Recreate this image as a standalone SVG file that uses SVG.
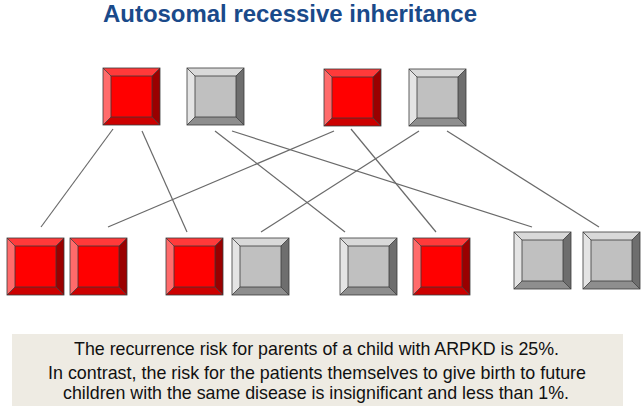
<svg xmlns="http://www.w3.org/2000/svg" xmlns:xlink="http://www.w3.org/1999/xlink" width="641" height="408" viewBox="0 0 641 408">
<style>
.title{font-family:"Liberation Sans",Arial,sans-serif;font-weight:bold;font-size:24px;fill:#1a4a8a}
.note{font-family:"Liberation Sans",Arial,sans-serif;font-size:17.8px;fill:#111}
.conn line{stroke:#6a6a6a;stroke-width:1.2}
.edge{stroke:#3a3a3a;stroke-width:0.8;stroke-linejoin:miter}
</style>
<defs>
<g id="redBox">
<polygon points="0,0 57,0 49,8 8,8" fill="#ff3a3a"/>
<polygon points="0,0 8,8 8,49 0,57" fill="#ff6b6b"/>
<polygon points="57,0 57,57 49,49 49,8" fill="#9a0000"/>
<polygon points="0,57 8,49 49,49 57,57" fill="#cc0000"/>
<rect x="8" y="8" width="41" height="41" fill="#ff0000"/>
<path class="edge" fill="none" d="M0,0 L8,8 M57,0 L49,8 M0,57 L8,49 M57,57 L49,49"/>
<rect class="edge" x="8" y="8" width="41" height="41" fill="none"/>
<rect class="edge" x="0" y="0" width="57" height="57" fill="none"/>
</g>
<g id="grayBox">
<polygon points="0,0 57,0 49,8 8,8" fill="#d9d9d9"/>
<polygon points="0,0 8,8 8,49 0,57" fill="#e4e4e4"/>
<polygon points="57,0 57,57 49,49 49,8" fill="#6e6e6e"/>
<polygon points="0,57 8,49 49,49 57,57" fill="#8e8e8e"/>
<rect x="8" y="8" width="41" height="41" fill="#c0c0c0"/>
<path class="edge" fill="none" d="M0,0 L8,8 M57,0 L49,8 M0,57 L8,49 M57,57 L49,49"/>
<rect class="edge" x="8" y="8" width="41" height="41" fill="none"/>
<rect class="edge" x="0" y="0" width="57" height="57" fill="none"/>
</g>
</defs>
<rect width="641" height="408" fill="#ffffff"/>
<text class="title" x="103" y="22" textLength="374" lengthAdjust="spacingAndGlyphs">Autosomal recessive inheritance</text>

<g id="connectors" class="conn">
<line x1="113" y1="129" x2="41" y2="227"/>
<line x1="142" y1="131" x2="187" y2="232"/>
<line x1="215" y1="131" x2="345" y2="232"/>
<line x1="232" y1="131" x2="532" y2="227"/>
<line x1="334" y1="131" x2="108" y2="227"/>
<line x1="351" y1="129" x2="436" y2="232"/>
<line x1="419" y1="131" x2="261" y2="232"/>
<line x1="447" y1="131" x2="599" y2="227"/>
</g>

<g id="parent1"><use xlink:href="#redBox" x="103" y="68"/></g>
<g id="parent2"><use xlink:href="#grayBox" x="187" y="68"/></g>
<g id="parent3"><use xlink:href="#redBox" x="324" y="69"/></g>
<g id="parent4"><use xlink:href="#grayBox" x="409" y="69"/></g>

<g id="child1"><use xlink:href="#redBox" x="7" y="238"/></g>
<g id="child2"><use xlink:href="#redBox" x="70" y="238"/></g>
<g id="child3"><use xlink:href="#redBox" x="166" y="238"/></g>
<g id="child4"><use xlink:href="#grayBox" x="232" y="238"/></g>
<g id="child5"><use xlink:href="#grayBox" x="340" y="238"/></g>
<g id="child6"><use xlink:href="#redBox" x="413" y="238"/></g>
<g id="child7"><use xlink:href="#grayBox" x="514" y="232"/></g>
<g id="child8"><use xlink:href="#grayBox" x="583" y="232"/></g>

<g id="note">
<rect x="12" y="334" width="611" height="72" fill="#eeebe3"/>
<text class="note" x="316.5" y="355" text-anchor="middle" textLength="485" lengthAdjust="spacingAndGlyphs">The recurrence risk for parents of a child with ARPKD is 25%.</text>
<text class="note" x="317" y="379" text-anchor="middle" textLength="538" lengthAdjust="spacingAndGlyphs">In contrast, the risk for the patients themselves to give birth to future</text>
<text class="note" x="316" y="399" text-anchor="middle" textLength="506" lengthAdjust="spacingAndGlyphs">children with the same disease is insignificant and less than 1%.</text>
</g>
</svg>
